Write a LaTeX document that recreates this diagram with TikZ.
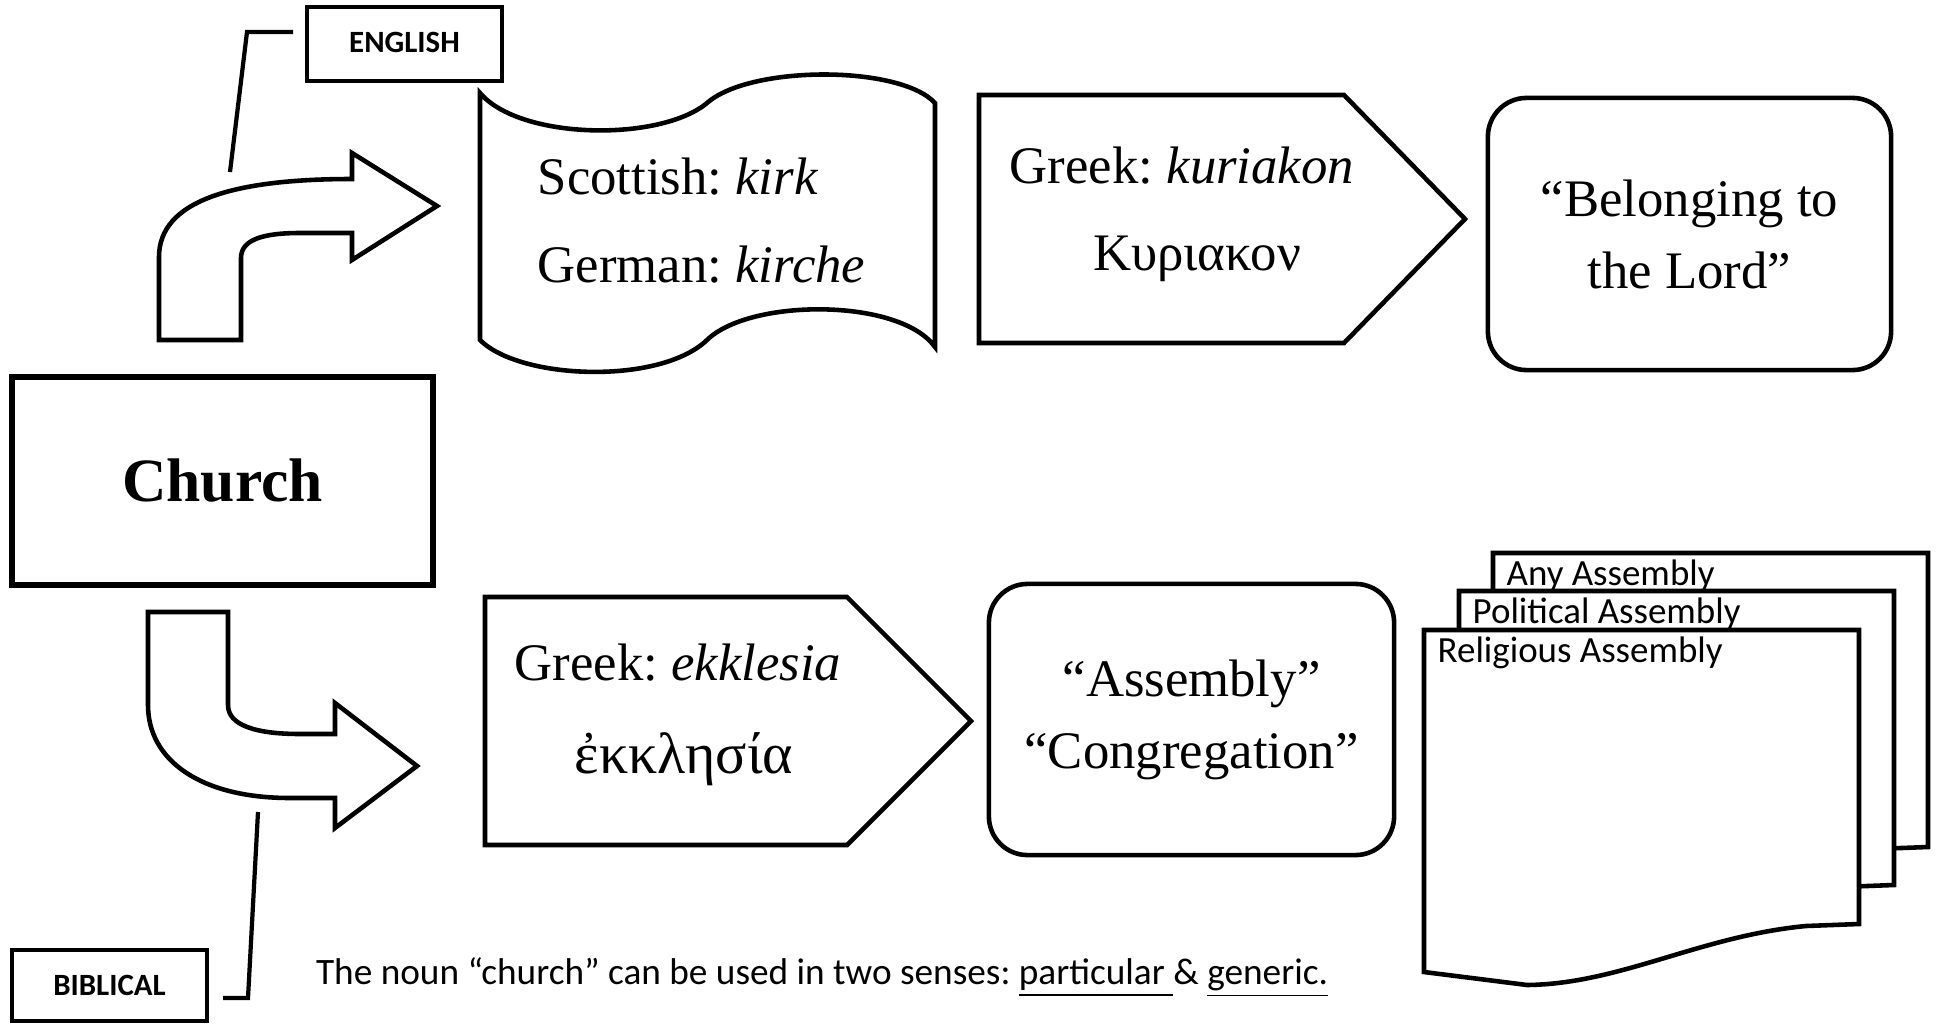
\documentclass[tikz,border=0pt]{standalone}
\usepackage{fontspec}
\setmainfont{Liberation Serif}
\newfontfamily\calibri{Carlito}
\frenchspacing

\tikzset{
  outline/.style={draw, line width=1.3pt, fill=white},
  wordbox/.style={outline, rectangle, inner sep=0pt},
  roundbox/.style={outline, rounded corners=11pt, inner sep=0pt, align=center,
    font=\fontsize{15}{20.5}\selectfont},
  tag/.style={outline, inner sep=0pt, font=\calibri\bfseries\fontsize{8.8}{10}\selectfont},
  serif/.style={inner sep=0pt, font=\fontsize{15}{20.5}\selectfont},
  doctext/.style={inner sep=0pt, anchor=base west, font=\calibri\fontsize{10.5}{12}\selectfont},
  callout/.style={line width=1.2pt}
}

\begin{document}
\begin{tikzpicture}[x=0.01cm, y=-0.01cm]
  \useasboundingbox (0,0) rectangle (1939,1024);

  \node[wordbox, line width=1.5pt, minimum width=4.21cm, minimum height=2.08cm,
    font=\bfseries\fontsize{17.5}{20}\selectfont] (church) at (222.5,481) {Church};
  \node[tag, minimum width=1.95cm, minimum height=0.74cm, text depth=0.8pt] (english) at (404.5,44) {ENGLISH};
  \node[tag, minimum width=1.95cm, minimum height=0.71cm] (biblical) at (109.5,985.5) {BIBLICAL};

  \coordinate (e1) at (293,32);
  \coordinate (e2) at (247,32);
  \coordinate (e3) at (230,172);
  \coordinate (b1) at (258,812);
  \coordinate (b2) at (248,998);
  \coordinate (b3) at (223,998);
  \draw[callout] (e1) -- (e2) -- (e3);
  \draw[callout] (b1) -- (b2) -- (b3);

  % bent arrows
  \draw[outline] (159,340) -- (159,257) .. controls (159,200) and (235,179) .. (352,179)
    -- (352,153) -- (437,206) -- (352,260) -- (352,233) -- (300,233)
    .. controls (262,233) and (241,240) .. (241,258) -- (241,340) -- cycle;
  \draw[outline] (148,612) -- (228,612) -- (228,705) .. controls (228,725) and (255,734) .. (300,734)
    -- (335,734) -- (335,703) -- (417,766) -- (335,828) -- (335,798) -- (290,798)
    .. controls (200,798) and (148,760) .. (148,705) -- cycle;

  % scroll
  \draw[outline] (480,93) .. controls (520,140) and (660,142) .. (707,103)
    .. controls (750,65) and (900,65) .. (935,103) -- (935,347)
    .. controls (900,298) and (750,298) .. (707,340)
    .. controls (660,385) and (520,380) .. (480,340) -- cycle;
  \node[serif, anchor=base west] (scottish) at (537,194) {Scottish: \textit{kirk}};
  \node[serif, anchor=base west] (german) at (537,282) {German: \textit{kirche}};

  % pentagons
  \draw[outline] (979,95) -- (1344,95) -- (1465,219) -- (1344,343) -- (979,343) -- cycle;
  \draw[outline] (485,597) -- (847,597) -- (971,721) -- (847,845) -- (485,845) -- cycle;
  \node[serif, anchor=base] (kuriakon) at (1182,183) {Greek: \textit{kuriakon}};
  \node[serif, anchor=base] (kuriakongr) at (1197,270) {Κυριακον};
  \node[serif, anchor=base] (ekklesia) at (678,680) {Greek: \textit{ekklesia}};
  \node[serif, anchor=base, font=\fontsize{16.5}{20.5}\selectfont] (ekklesiagr) at (684,773) {ἐκκλησία};

  \node[roundbox, minimum width=4.03cm, minimum height=2.72cm] (lord) at (1689.5,234)
    {“Belonging to\\the Lord”};
  \node[roundbox, minimum width=4.05cm, minimum height=2.71cm] (assembly) at (1191.5,719.5)
    {“Assembly”\\“Congregation”};

  % stacked documents
  \foreach \dx/\dy/\name/\txt in {69/-77/any/Any Assembly, 35/-39/political/Political Assembly,
      0/0/religious/Religious Assembly}{
    \begin{scope}[shift={(\dx,\dy)}]
      \draw[outline] (1424,630) -- (1859,630) -- (1859,924) -- (1806,926)
        .. controls (1700,936) and (1620,984) .. (1527,985) -- (1424,972) -- cycle;
      \node[doctext] (\name) at (1437,662) {\txt};
    \end{scope}
  }

  \node[inner sep=0pt, anchor=base, font=\calibri\fontsize{10.6}{12}\selectfont] (senses) at (822,984)
    {The noun “church” can be used in two senses: \underline{particular }\& \underline{generic.}};
\end{tikzpicture}
\end{document}
